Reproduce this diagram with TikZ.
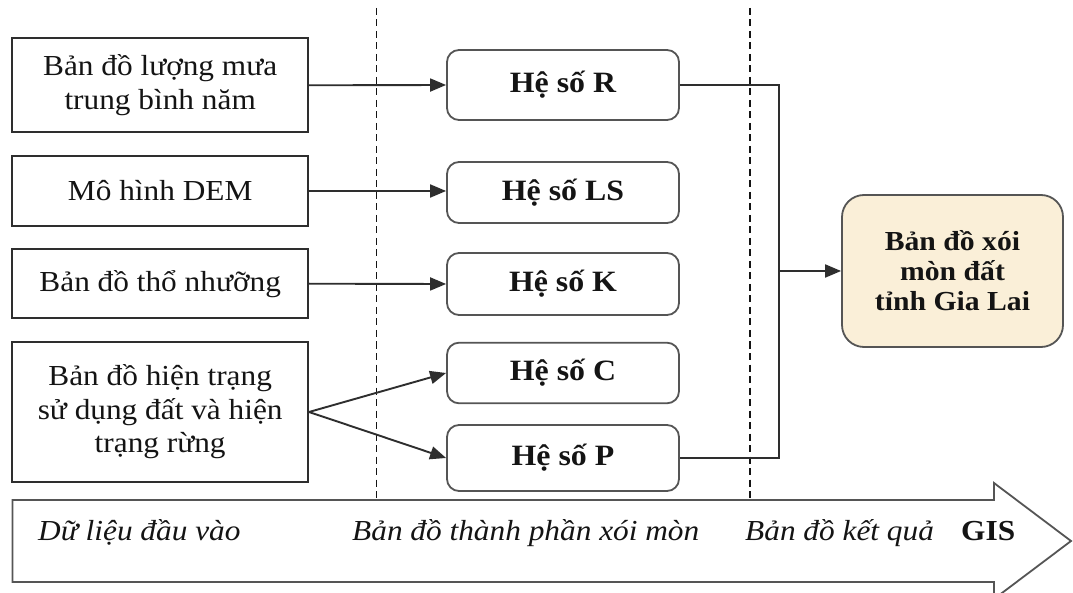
\documentclass[tikz,border=0pt]{standalone}
\usepackage{fontspec}
\setmainfont{Liberation Serif}[FakeStretch=1.08]
\usetikzlibrary{arrows.meta}
\definecolor{ink}{HTML}{141414}
\definecolor{frame}{HTML}{2E2E2E}
\definecolor{softframe}{HTML}{555555}
\definecolor{cream}{HTML}{FAEFD8}
\tikzset{
  inbox/.style={draw=frame, line width=2pt, rectangle, minimum width=295.6pt, align=center, inner sep=0pt, text=ink, font=\fontsize{29}{33.4}\selectfont},
  coefbox/.style={draw=softframe, line width=1.8pt, rounded corners=12pt, minimum width=232pt, inner sep=0pt, text=ink, font=\fontsize{29.5}{33}\selectfont\bfseries},
  resultbox/.style={draw=softframe, line width=1.8pt, rounded corners=22pt, fill=cream, minimum width=221pt, minimum height=152pt, align=center, inner sep=0pt, text=ink, font=\fontsize{27.5}{30}\selectfont\bfseries},
  link/.style={draw=frame, line width=1.9pt},
  arrowlink/.style={link, -{Triangle[length=16pt,width=13pt]}},
  divider/.style={draw=ink, line width=1.5pt, dash pattern=on 7pt off 4.5pt},
  stage/.style={anchor=base west, inner sep=0pt, text=ink, font=\fontsize{29}{33}\selectfont\itshape},
  gislabel/.style={anchor=base west, inner sep=0pt, text=ink, font=\fontsize{29}{33}\selectfont\bfseries},
  bigarrow/.style={draw=softframe, line width=1.8pt, fill=white, line join=miter}
}
\begin{document}
\begin{tikzpicture}[x=1pt,y=-1pt]
\useasboundingbox (0,0) rectangle (1073,593);
\clip (0,0) rectangle (1073,593);
\fill[white] (0,0) rectangle (1073,593);

% big process arrow
\draw[bigarrow] (12.4,500) -- (994,500) -- (994,483) -- (1071,541) -- (994,599) -- (994,582) -- (12.4,582) -- cycle;

% dividers
\coordinate (d1top) at (376.5,8);
\coordinate (d1bot) at (376.5,500);
\coordinate (d2top) at (750,8);
\coordinate (d2bot) at (750,500);
\draw[divider] (d1top) -- (d1bot);
\draw[divider] (d2top) -- (d2bot);

% input boxes
\node[inbox, minimum height=94pt] (in1) at (160.2,85.3) {Bản đồ lượng mưa\\trung bình năm};
\node[inbox, minimum height=70pt] (in2) at (160.2,191) {Mô hình DEM};
\node[inbox, minimum height=69pt] (in3) at (160.2,283.7) {Bản đồ thổ nhưỡng};
\node[inbox, minimum height=139.4pt] (in4) at (160.2,412) {Bản đồ hiện trạng\\sử dụng đất và hiện\\trạng rừng};

% coefficient boxes
\node[coefbox, minimum height=70pt] (R) at (563,85) {Hệ số R};
\node[coefbox, minimum height=61pt] (LS) at (563,192.5) {Hệ số LS};
\node[coefbox, minimum height=62pt] (K) at (563,284) {Hệ số K};
\node[coefbox, minimum height=60.6pt] (C) at (563,373) {Hệ số C};
\node[coefbox, minimum height=66pt] (P) at (563,458) {Hệ số P};

% result
\node[resultbox] (res) at (952.5,271) {Bản đồ xói\\mòn đất\\tỉnh Gia Lai};

% connectors
\draw[arrowlink] (in1.east) -- (R.west);
\draw[arrowlink] (in2.east) -- (in2.east -| LS.west);
\draw[arrowlink] (in3.east) -- (K.west);
\draw[arrowlink] (in4.east) -- (C.west);
\draw[arrowlink] (in4.east) -- (P.west);

\coordinate (jtop) at (779,85);
\coordinate (jbot) at (779,458);
\coordinate (jmid) at (779,271);
\draw[link] (R.east) -- (jtop) -- (jbot) -- (P.east);
\draw[arrowlink] (jmid) -- (res.west);

% stage labels
\node[stage] (s1) at (38,540) {Dữ liệu đầu vào};
\node[stage] (s2) at (352,540) {Bản đồ thành phần xói mòn};
\node[stage] (s3) at (745,540) {Bản đồ kết quả};
\node[gislabel] (gis) at (961,540) {GIS};
\end{tikzpicture}
\end{document}
